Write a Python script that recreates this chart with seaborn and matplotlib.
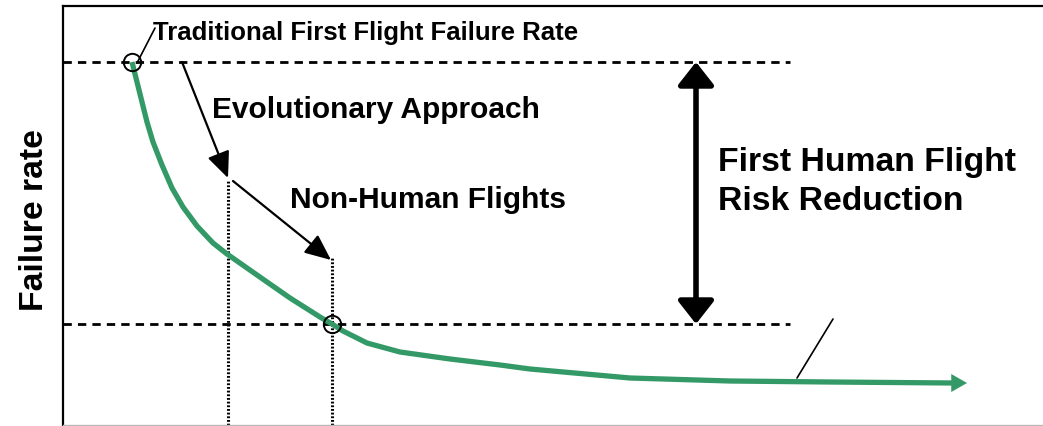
import matplotlib
matplotlib.use("Agg")
import matplotlib.pyplot as plt
import seaborn as sns
import pandas as pd

# ---- data (arbitrary units) ----
flights = [69, 74, 79, 84, 90, 99, 109, 120, 134, 150, 164, 184, 204, 227, 257, 269,
           280, 304, 337, 387, 437, 467, 567, 667, 767, 890]
failure_rate = [363, 343, 323, 303, 283, 260, 237, 218, 199, 182, 171, 157, 143, 127, 108, 101,
                94, 82, 73, 66, 60, 56, 47, 44, 43, 42]
traditional_rate = 363
target_rate = 101
evolutionary_x = 165
nonhuman_x = 269
evolutionary_top = 245
nonhuman_top = 167
level_line_end = 727
risk_arrow_x = 633

labels = {
    "traditional": "Traditional First Flight Failure Rate",
    "evolutionary": "Evolutionary Approach",
    "nonhuman": "Non-Human Flights",
    "risk1": "First Human Flight",
    "risk2": "Risk Reduction",
    "ylabel": "Failure rate",
}

GREEN = "#339966"

sns.set_style("white")
plt.rcParams["font.family"] = ["Liberation Sans", "DejaVu Sans"]
plt.rcParams["text.color"] = "black"

W, H = 1043, 426
fig = plt.figure(figsize=(W / 100, H / 100), dpi=100)
ax = fig.add_axes([63 / W, 1 - 425 / H, 980 / W, 419 / H])
ax.set_xlim(0, 980)
ax.set_ylim(0, 419)
ax.set_xticks([])
ax.set_yticks([])
for s in ["left", "top"]:
    ax.spines[s].set_color("black")
    ax.spines[s].set_linewidth(1.6)
ax.spines["right"].set_visible(False)
ax.spines["bottom"].set_color("#b8b8b8")
ax.spines["bottom"].set_linewidth(1.0)

# dashed level lines
ax.plot([0, level_line_end], [traditional_rate, traditional_rate], color="black",
        lw=2.0, dashes=(3.0, 2.2))
ax.plot([0, level_line_end], [target_rate, target_rate], color="black",
        lw=2.0, dashes=(3.0, 2.2))

# dotted verticals
ax.plot([evolutionary_x, evolutionary_x], [0, evolutionary_top], color="black",
        lw=2.2, dashes=(0.6, 0.6))
ax.plot([nonhuman_x, nonhuman_x], [0, nonhuman_top], color="black",
        lw=2.2, dashes=(0.6, 0.6))

# curve
df = pd.DataFrame({"flights": flights, "failure_rate": failure_rate})
sns.lineplot(data=df, x="flights", y="failure_rate", ax=ax, color=GREEN,
             lw=3.8, sort=False, estimator=None)
curve = ax.lines[-1]
curve.set_solid_capstyle("butt")
curve.set_solid_joinstyle("round")
ax.annotate("", xy=(flights[-1] + 14, failure_rate[-1]),
            xytext=(flights[-1] - 2, failure_rate[-1]),
            arrowprops=dict(arrowstyle="-|>,head_length=0.7,head_width=0.4",
                            color=GREEN, lw=0.1, mutation_scale=16,
                            shrinkA=0, shrinkB=0))

# circles
ax.plot([flights[0]], [failure_rate[0]], marker="o", ms=12.5, mfc="none",
        mec="black", mew=1.4)
ax.plot([nonhuman_x], [target_rate], marker="o", ms=12.5, mfc="none",
        mec="black", mew=1.4)

# arrows
ax.annotate("", xy=(evolutionary_x, evolutionary_top + 2), xytext=(119, traditional_rate),
            arrowprops=dict(arrowstyle="-|>,head_length=0.8,head_width=0.35",
                            color="black", lw=1.6, mutation_scale=20,
                            shrinkA=0, shrinkB=0))
ax.annotate("", xy=(nonhuman_x - 1, nonhuman_top - 2), xytext=(170, 244),
            arrowprops=dict(arrowstyle="-|>,head_length=0.8,head_width=0.35",
                            color="black", lw=1.6, mutation_scale=20,
                            shrinkA=0, shrinkB=0))
ax.annotate("", xy=(risk_arrow_x, target_rate), xytext=(risk_arrow_x, traditional_rate),
            arrowprops=dict(arrowstyle="<|-|>,head_length=0.7,head_width=0.55",
                            color="black", lw=4.0, mutation_scale=20,
                            shrinkA=0, shrinkB=0))

# leader lines
ax.plot([74, 92], [362, 397], color="black", lw=1.2)
ax.plot([734, 770], [47, 106], color="black", lw=1.2)

# texts
ax.text(90, 392, labels["traditional"], fontsize=18.5, fontweight="bold",
        va="center", ha="left", color="black")
ax.text(149, 315, labels["evolutionary"], fontsize=21.5, fontweight="bold",
        va="center", ha="left", color="black")
ax.text(227, 225, labels["nonhuman"], fontsize=21.5, fontweight="bold",
        va="center", ha="left", color="black")
ax.text(655, 263, labels["risk1"], fontsize=24.3, fontweight="bold",
        va="center", ha="left", color="black")
ax.text(655, 223, labels["risk2"], fontsize=24.3, fontweight="bold",
        va="center", ha="left", color="black")
fig.text(35 / W, 1 - 220 / H, labels["ylabel"], rotation=90, fontsize=24.3,
         fontweight="bold", va="center", ha="center", color="black")

fig.savefig("out.png", dpi=100)
